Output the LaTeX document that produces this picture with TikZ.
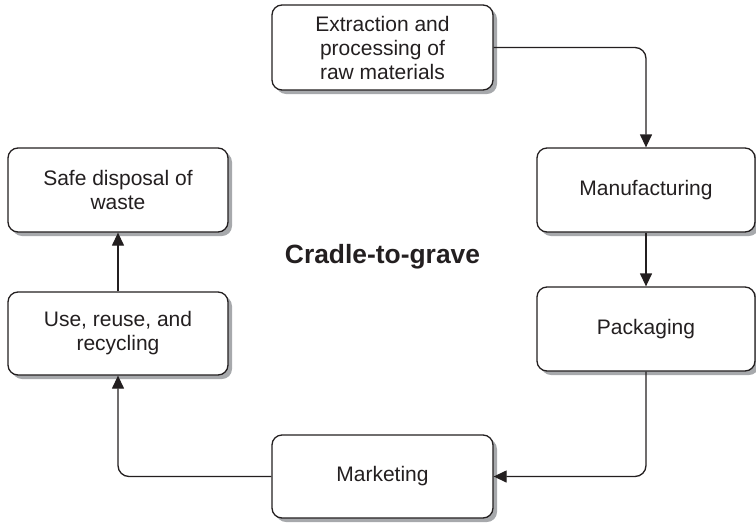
\documentclass[tikz,border=0pt]{standalone}
\usepackage{fontspec}
\setmainfont{Liberation Sans}
\usetikzlibrary{arrows.meta,shadows}
\definecolor{ink}{HTML}{231F20}
\definecolor{shade}{HTML}{A7A9AC}
\tikzset{
  stagebox/.style={draw=ink, line width=1.3pt, fill=white, rounded corners=10pt,
    inner sep=0pt, align=center, text=ink,
    font=\fontsize{21}{24}\selectfont,
    drop shadow={shadow xshift=4pt, shadow yshift=-4pt, fill=shade, opacity=1}},
  flow/.style={draw=ink, line width=1.3pt, rounded corners=11pt,
    -{Triangle[length=13pt, width=12pt]}},
}
\begin{document}
\begin{tikzpicture}[x=1pt, y=-1pt]
  \useasboundingbox (0,0) rectangle (756,523);
  % life-cycle stages
  \node[stagebox, minimum width=221pt, minimum height=85pt] (ext) at (382.5,47.5)
    {Extraction and\\processing of\\raw materials};
  \node[stagebox, minimum width=218pt, minimum height=84pt] (manu) at (646,190)
    {Manufacturing};
  \node[stagebox, minimum width=218pt, minimum height=84pt] (pack) at (646,329)
    {Packaging};
  \node[stagebox, minimum width=221pt, minimum height=83pt] (mark) at (382.5,476.5)
    {Marketing};
  \node[stagebox, minimum width=220pt, minimum height=83pt] (use) at (118,333.5)
    {Use, reuse, and\\recycling};
  \node[stagebox, minimum width=220pt, minimum height=84pt] (safe) at (118,190)
    {Safe disposal of\\waste};
  % title
  \node[text=ink, font=\fontsize{26.4}{30}\selectfont\bfseries] (title) at (382.5,257)
    {Cradle-to-grave};
  % connectors
  \draw[flow] (ext.east) -| (manu.north);
  \draw[flow] (manu.south) -- (pack.north);
  \draw[flow] (pack.south) |- (mark.east);
  \draw[flow] (mark.west) -| (use.south);
  \draw[flow] (use.north) -- (safe.south);
\end{tikzpicture}
\end{document}
